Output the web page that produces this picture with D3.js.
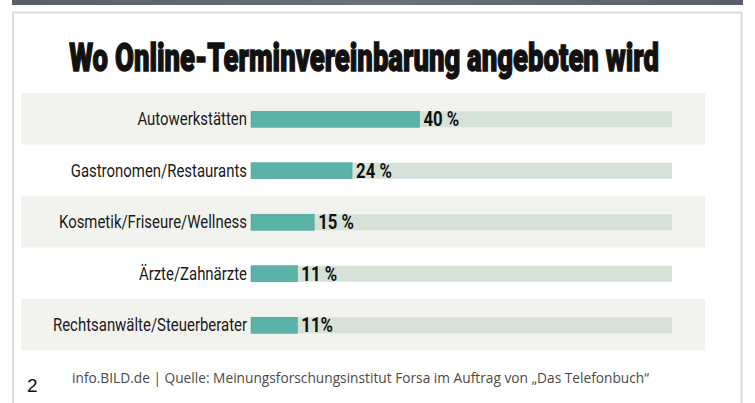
<!DOCTYPE html>
<html>
<head>
<meta charset="utf-8">
<script src="https://cdnjs.cloudflare.com/ajax/libs/d3/7.8.5/d3.min.js"></script>
<style>
  html, body { margin: 0; padding: 0; background: #ffffff; }
  svg { display: block; }
</style>
</head>
<body>
<script>
// Umfragewerte: Branchen mit Online-Terminvereinbarung (in Prozent)
const categories = [
  "Autowerkstätten",
  "Gastronomen/Restaurants",
  "Kosmetik/Friseure/Wellness",
  "Ärzte/Zahnärzte",
  "Rechtsanwälte/Steuerberater"
];
const values = [40, 24, 15, 11, 11];
const valueLabels = ["40 %", "24 %", "15 %", "11 %", "11%"];
const title = "Wo Online-Terminvereinbarung angeboten wird";
const pageNumber = "2";
const sourceNote = "info.BILD.de | Quelle: Meinungsforschungsinstitut Forsa im Auftrag von \u201EDas Telefonbuch\u201C";

const W = 755, H = 403;
const svg = d3.select("body").append("svg").attr("width", W).attr("height", H);

// Kopfleiste und Kartenrahmen
const grad = svg.append("defs").append("linearGradient").attr("id", "topbar");
grad.append("stop").attr("offset", "0%").attr("stop-color", "#5a5e6b");
grad.append("stop").attr("offset", "50%").attr("stop-color", "#6c707c");
grad.append("stop").attr("offset", "100%").attr("stop-color", "#5a5e6b");
svg.append("rect").attr("x", 12).attr("y", 0).attr("width", 731).attr("height", 5)
  .attr("fill", "url(#topbar)");
svg.append("path")
  .attr("d", "M13,404 V12.5 H741.5 V404")
  .attr("fill", "none").attr("stroke", "#dcdcdc").attr("stroke-width", 2);

// Schmale Schrift durch horizontale Stauchung
const narrow = "'Roboto', 'Liberation Sans', sans-serif";

// Überschrift
svg.append("g")
  .attr("transform", "translate(364,71) scale(0.705,1)")
  .append("text")
  .attr("text-anchor", "middle")
  .style("font-family", narrow)
  .style("font-weight", 900).style("font-size", "39px").style("fill", "#111")
  .style("stroke", "#111").style("stroke-width", 1.4)
  .text(title);

// Skalen
const y = d3.scaleBand().domain(categories).range([93, 350.5]).paddingInner(0).paddingOuter(0);
const x = d3.scaleLinear().domain([0, 100]).range([251, 672]);
const barH = 16;

const rows = svg.append("g").selectAll("g").data(categories).join("g");

// Zeilenbänder (jede zweite Zeile hinterlegt)
rows.filter((d, i) => i % 2 === 0).append("rect")
  .attr("x", 21).attr("width", 684)
  .attr("y", d => y(d)).attr("height", y.bandwidth())
  .attr("fill", "#f2f2ef");

// Hintergrundspur (100 %)
rows.append("rect")
  .attr("x", x(0)).attr("width", x(100) - x(0))
  .attr("y", d => y(d) + y.bandwidth() / 2 - barH / 2 + 0.5).attr("height", barH)
  .attr("fill", "#d6e2d7");

// Werte-Balken
rows.append("rect")
  .attr("x", x(0))
  .attr("width", (d, i) => x(values[i]) - x(0))
  .attr("y", d => y(d) + y.bandwidth() / 2 - barH / 2 + 0.5).attr("height", barH)
  .attr("fill", "#5bb3a7").attr("stroke", "#4fa597").attr("stroke-width", 0.6);

// Kategorienbeschriftung
rows.append("g")
  .attr("transform", d => `translate(247,${y(d) + y.bandwidth() / 2 + 6.5}) scale(0.83,1)`)
  .append("text")
  .attr("text-anchor", "end")
  .style("font-family", narrow)
  .style("font-size", "18px").style("fill", "#1a1a1a")
  .text(d => d);

// Prozentwerte
rows.append("g")
  .attr("transform", (d, i) => `translate(${x(values[i]) + 4},${y(d) + y.bandwidth() / 2 + 7.5}) scale(0.84,1)`)
  .append("text")
  .style("font-family", narrow)
  .style("font-weight", 700).style("font-size", "20px").style("fill", "#111")
  .text((d, i) => valueLabels[i]);

// Fußzeile
svg.append("text")
  .attr("x", 27).attr("y", 392)
  .style("font-family", "'Liberation Sans', Arial, sans-serif")
  .style("font-size", "19px").style("fill", "#111")
  .text(pageNumber);

svg.append("g")
  .attr("transform", "translate(72,383) scale(0.98,1)")
  .append("text")
  .style("font-family", "'Open Sans', 'Noto Sans', sans-serif")
  .style("font-size", "14px").style("fill", "#4a4a4a")
  .text(sourceNote);
</script>
</body>
</html>
